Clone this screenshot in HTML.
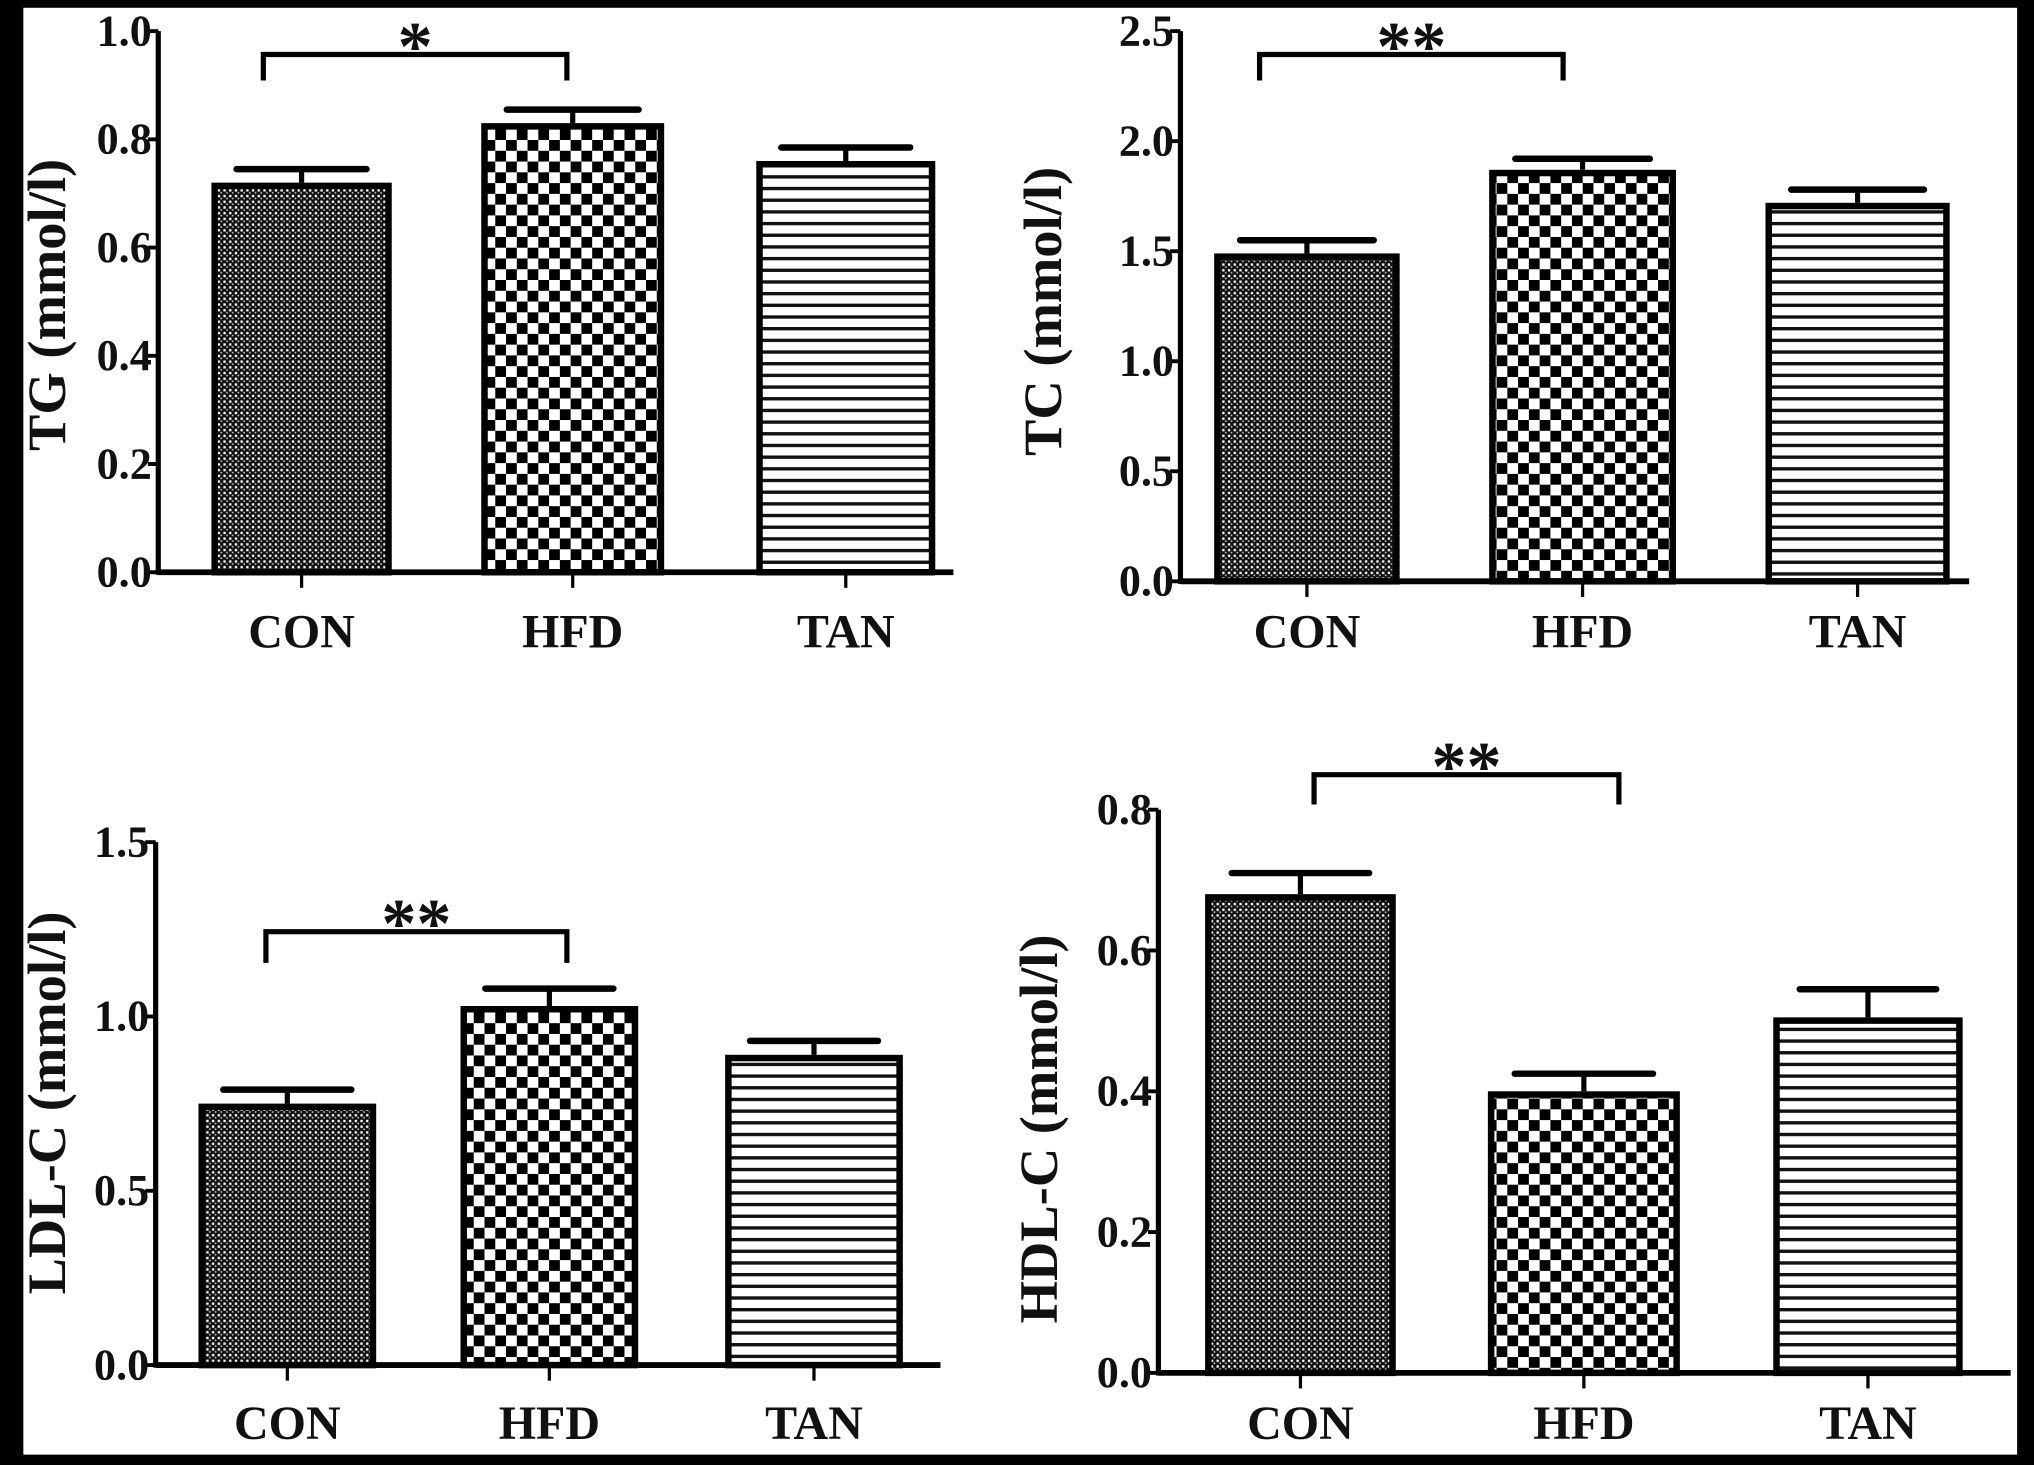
<!DOCTYPE html>
<html><head><meta charset="utf-8"><style>
html,body{margin:0;padding:0;background:#fff;overflow:hidden}
svg{display:block}
text{font-family:"Liberation Serif",serif;font-weight:bold;fill:#111}
</style></head><body>
<svg id="chart" width="2034" height="1465" viewBox="0 0 1568 1129" preserveAspectRatio="none" xmlns="http://www.w3.org/2000/svg">
<defs>
<pattern id="pCon" width="4.4" height="4.4" patternUnits="userSpaceOnUse"><rect width="4.4" height="4.4" fill="#111"/><rect x="0.6" y="0.6" width="1.8" height="1.8" fill="#fff"/><rect x="2.8" y="2.8" width="1.2" height="1.2" fill="#ccc"/></pattern>
<pattern id="pHfd" width="16.6" height="16.6" patternUnits="userSpaceOnUse"><rect width="16.6" height="16.6" fill="#fff"/><rect width="8.3" height="8.3" fill="#000"/><rect x="8.3" y="8.3" width="8.3" height="8.3" fill="#000"/></pattern>
<pattern id="pTan" width="9" height="9" patternUnits="userSpaceOnUse"><rect width="9" height="9" fill="#fff"/><rect y="0" width="9" height="2.6" fill="#111"/></pattern>
</defs>
<rect x="0" y="0" width="1568" height="1129" fill="#fff"/>
<rect x="0" y="0" width="18" height="1129" fill="#000"/>
<rect x="1555" y="0" width="13" height="1129" fill="#000"/>
<rect x="0" y="0" width="1568" height="6" fill="#000"/>
<rect x="0" y="1121" width="1568" height="8" fill="#000"/>
<g id="plots"></g>
</svg>
<script>
const categories = ["CON","HFD","TAN"];
const tgValues = [0.72, 0.83, 0.76];
const tgErrors = [0.025, 0.025, 0.025];
const tcValues = [1.49, 1.87, 1.72];
const tcErrors = [0.06, 0.05, 0.06];
const ldlValues = [0.75, 1.03, 0.89];
const ldlErrors = [0.04, 0.05, 0.04];
const hdlValues = [0.68, 0.40, 0.505];
const hdlErrors = [0.03, 0.025, 0.04];
const tgTicks = ["0.0","0.2","0.4","0.6","0.8","1.0"];
const tcTicks = ["0.0","0.5","1.0","1.5","2.0","2.5"];
const ldlTicks = ["0.0","0.5","1.0","1.5"];
const hdlTicks = ["0.0","0.2","0.4","0.6","0.8"];

const NS = "http://www.w3.org/2000/svg";
const root = document.getElementById('plots');
function mk(tag, attrs, parent){const e=document.createElementNS(NS,tag);for(const k in attrs)e.setAttribute(k,attrs[k]);(parent||root).appendChild(e);return e;}
const fills=["url(#pCon)","url(#pHfd)","url(#pTan)"];

const panels=[
 {key:"tg",title:"TG (mmol/l)",vals:tgValues,errs:tgErrors,ticks:tgTicks,ax:122,y0:441,yTop:24,max:1.0,axEnd:735,
  bars:[[163,302],[371,512],[583,721]],labY:487,titleX:36,titleY:235,bx:[203,437],brY:42,brDrop:20,star:"*"},
 {key:"tc",title:"TC (mmol/l)",vals:tcValues,errs:tcErrors,ticks:tcTicks,ax:910,y0:448,yTop:24,max:2.5,axEnd:1518,
  bars:[[936,1079],[1148,1292],[1361,1503]],labY:487,titleX:804,titleY:240,bx:[971,1205],brY:42,brDrop:20,star:"**"},
 {key:"ldl",title:"LDL-C (mmol/l)",vals:ldlValues,errs:ldlErrors,ticks:ldlTicks,ax:120,y0:1052,yTop:649,max:1.5,axEnd:725,
  bars:[[153,290],[355,492],[559,696]],labY:1097,titleX:36,titleY:850,bx:[205,437],brY:718,brDrop:24,star:"**"},
 {key:"hdl",title:"HDL-C (mmol/l)",vals:hdlValues,errs:hdlErrors,ticks:hdlTicks,ax:893,y0:1058,yTop:624,max:0.8,axEnd:1550,
  bars:[[929,1076],[1147,1295],[1367,1513]],labY:1097,titleX:801,titleY:870,bx:[1013,1248],brY:597,brDrop:23,star:"**"}
];

panels.forEach(p=>{
  const g=mk('g',{});
  
  
  const yScale=v=>p.y0-(v/p.max)*(p.y0-p.yTop);
  p.vals.forEach((v,i)=>{
    const [x1,x2]=p.bars[i];const cx=(x1+x2)/2;
    const eTop=yScale(v+p.errs[i]);
    const el=mk('line',{x1:cx,x2:cx,y1:yScale(v),y2:eTop,stroke:"#000","stroke-width":4},g);
    
    
    const cap=mk('line',{x1:cx-(x2-x1)*0.36,x2:cx+(x2-x1)*0.36,y1:eTop,y2:eTop,stroke:"#000","stroke-width":5,"stroke-linecap":"round"},g);
    
    
    const r=mk('rect',{x:x1+2.5,y:yScale(v)+2.5,width:x2-x1-5,height:p.y0-yScale(v)-2.5,fill:fills[i],stroke:"#000","stroke-width":5},g);
    
    
    const t=mk('line',{x1:cx,x2:cx,y1:p.y0,y2:p.y0+12,stroke:"#000","stroke-width":2.5},g);
    
    
    const lb=mk('text',{x:cx,y:p.labY+12,"text-anchor":"middle","font-size":37},g);
    lb.textContent=categories[i];
    
    
  });
  const ya=mk('line',{x1:p.ax,x2:p.ax,y1:p.yTop,y2:p.y0+2,stroke:"#000","stroke-width":4},g);
  
  
  const xa=mk('line',{x1:p.ax,x2:p.axEnd,y1:p.y0,y2:p.y0,stroke:"#000","stroke-width":4.5},g);
  
  
  p.ticks.forEach(tl=>{
    const y=yScale(parseFloat(tl));
    const tk=mk('line',{x1:p.ax-8,x2:p.ax,y1:y,y2:y,stroke:"#000","stroke-width":3},g);
    
    
    const tt=mk('text',{x:p.ax-5,y:y+11,"text-anchor":"end","font-size":34},g);
    tt.textContent=tl;
    
    
  });
  const yt=mk('text',{x:p.titleX,y:p.titleY,"text-anchor":"middle","font-size":42,transform:`rotate(-90 ${p.titleX} ${p.titleY})`,dy:14},g);
  yt.textContent=p.title;
  
  
  const [bx1,bx2]=p.bx;
  const bk=mk('polyline',{points:`${bx1},${p.brY+p.brDrop} ${bx1},${p.brY} ${bx2},${p.brY} ${bx2},${p.brY+p.brDrop}`,fill:"none",stroke:"#000","stroke-width":4},g);
  
  
  const st=mk('text',{x:(bx1+bx2)/2,y:p.brY+12,"text-anchor":"middle","font-size":54},g);
  st.textContent=p.star;
  
  
});
</script>
</body></html>
